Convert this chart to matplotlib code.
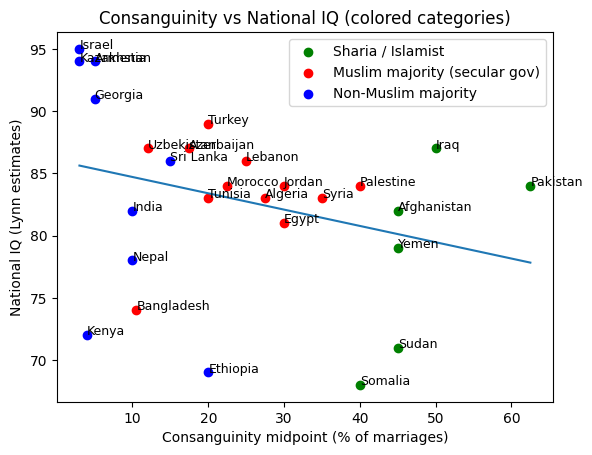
import numpy as np
import matplotlib
matplotlib.use("Agg")
import matplotlib.pyplot as plt

countries = ["Israel", "Kazakhstan", "Armenia", "Georgia", "Turkey", "Uzbekistan",
             "Azerbaijan", "Sri Lanka", "Lebanon", "Morocco", "Tunisia", "Jordan",
             "Algeria", "Syria", "Egypt", "Palestine", "Iraq", "Pakistan",
             "Afghanistan", "Yemen", "Sudan", "Somalia", "India", "Nepal",
             "Bangladesh", "Kenya", "Ethiopia"]
consang = [3, 3, 5, 5, 20, 12, 17.5, 15, 25, 22.5, 20, 30, 27.5, 35, 30, 40, 50, 62.5,
           45, 45, 45, 40, 10, 10, 10.5, 4, 20]
iq = [95, 94, 94, 91, 89, 87, 87, 86, 86, 84, 83, 84, 83, 83, 81, 84, 87, 84,
      82, 79, 71, 68, 82, 78, 74, 72, 69]
category = ["N", "N", "N", "N", "M", "M", "M", "N", "M", "M", "M", "M", "M", "M", "M", "M",
            "S", "S", "S", "S", "S", "S", "N", "N", "M", "N", "N"]

cat_names = {"S": "Sharia / Islamist", "M": "Muslim majority (secular gov)", "N": "Non-Muslim majority"}
cat_colors = {"S": "green", "M": "red", "N": "blue"}

x = np.array(consang, dtype=float)
y = np.array(iq, dtype=float)
cats = np.array(category)

fig, ax = plt.subplots(figsize=(6.4, 4.8), dpi=100)
for c in ["S", "M", "N"]:
    m = cats == c
    ax.scatter(x[m], y[m], color=cat_colors[c], label=cat_names[c])

for name, xi, yi in zip(countries, x, y):
    ax.text(xi, yi, name, fontsize=9)

coef = np.polyfit(x, y, 1)
xs = np.linspace(x.min(), x.max(), 100)
ax.plot(xs, np.polyval(coef, xs))

ax.set_xlabel("Consanguinity midpoint (% of marriages)")
ax.set_ylabel("National IQ (Lynn estimates)")
ax.set_title("Consanguinity vs National IQ (colored categories)")
ax.legend(loc="upper right")
fig.savefig("out.png", dpi=100, bbox_inches="tight")
